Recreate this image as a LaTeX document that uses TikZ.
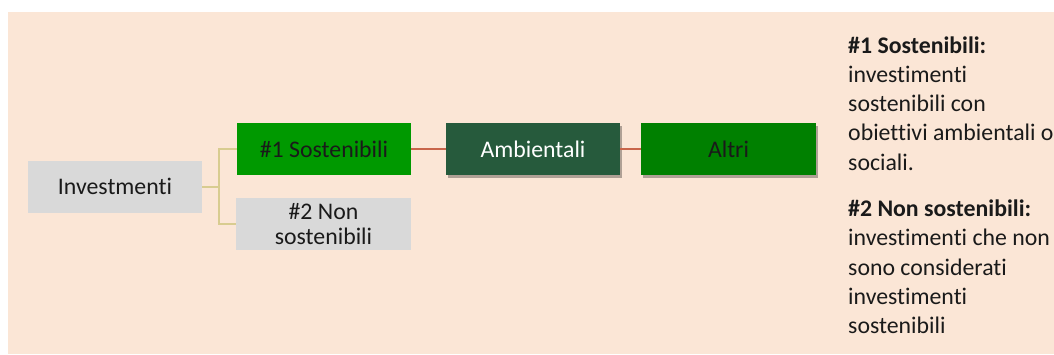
\documentclass[tikz,border=0pt]{standalone}
\usepackage{fontspec}
\setmainfont{Carlito}[Ligatures={NoCommon,NoDiscretionary}]
\usetikzlibrary{shadows}
\definecolor{bgc}{HTML}{FBE6D6}
\definecolor{grayc}{HTML}{D9D9D9}
\definecolor{greenA}{HTML}{009900}
\definecolor{greenB}{HTML}{008000}
\definecolor{darkg}{HTML}{265A3C}
\definecolor{khaki}{HTML}{D8CC90}
\definecolor{redc}{HTML}{C8654A}
\definecolor{txt}{HTML}{1A1A1A}
\tikzset{
  box/.style={minimum width=174pt, minimum height=52pt, inner sep=0pt, align=center,
    font=\fontsize{23.8}{25}\selectfont, text=txt},
  shad/.style={drop shadow={shadow xshift=2pt, shadow yshift=-3pt, opacity=0.3, fill=black}},
  tline/.style={draw=khaki, line width=2pt},
  rline/.style={draw=redc, line width=2pt}
}
\begin{document}
\begin{tikzpicture}[x=1pt,y=-1pt]
\useasboundingbox (0,0) rectangle (1054,354);
\fill[bgc] (8,12) rectangle (1054,354);
\node[box, fill=grayc] (inv) at (115,186.5) {Investmenti};
\node[box, fill=greenA] (s1) at (324,149) {\#1 Sostenibili};
\node[box, fill=grayc, minimum width=175pt] (s2) at (323.5,224) {\#2 Non\\sostenibili};
\node[box, fill=darkg, text=white, shad] (amb) at (533,149) {Ambientali};
\node[box, fill=greenB, shad, minimum width=175pt] (alt) at (728.5,149) {Altri};
\draw[tline] (inv.east) -- ++(17,0) coordinate (j) |- (s1.west);
\draw[tline] (j) |- (s2.west);
\draw[rline] (s1.east) -- (amb.west);
\draw[rline] (amb.east) -- (alt.west);
\node[anchor=base west, inner sep=0pt, align=left, text=txt,
  font=\fontsize{23.8}{29.2}\selectfont] (desc) at (848,333.5)
  {\textbf{\#1 Sostenibili:}\\investimenti\\sostenibili con\\obiettivi ambientali o\\sociali.\\[17.5pt]
   \textbf{\#2 Non sostenibili:}\\investimenti che non\\sono considerati\\investimenti\\sostenibili};
\end{tikzpicture}
\end{document}
